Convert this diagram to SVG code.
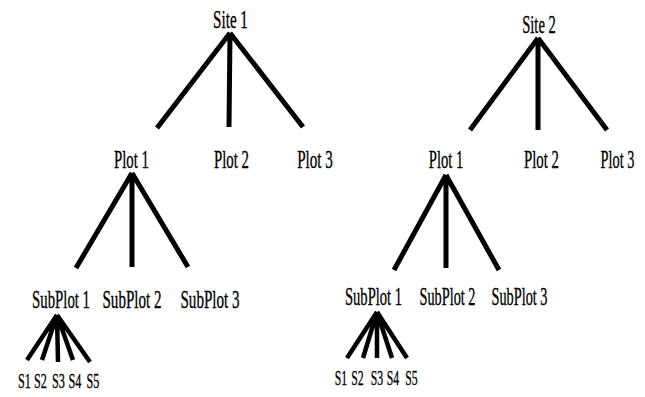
<svg xmlns="http://www.w3.org/2000/svg" width="645" height="397" viewBox="0 0 645 397">
<style>
text{font-family:"Liberation Serif","DejaVu Serif",serif;fill:#000;stroke:#000;stroke-width:0.35;text-anchor:middle;}
.l{font-size:26px;}
.s{font-size:21px;}
.e{stroke:#000;stroke-width:5;fill:none;}
.f{stroke:#000;stroke-width:4.5;fill:none;}
</style>
<rect width="645" height="397" fill="#fff"/>
<g id="connectors">
<path class="e" d="M230,33 L157,128 M230,33 L229,127 M230,33 L303,127"/>
<path class="e" d="M132,173 L76,268 M132,173 L132,267 M132,173 L188,267"/>
<path class="f" d="M57,315 L27,360 M57,315 L42,360 M57,315 L58,362 M57,315 L73,360 M57,315 L90,362"/>
<path class="e" d="M538,38 L470,130 M538,38 L538,130 M538,38 L607,130"/>
<path class="e" d="M446,175 L394,270 M446,175 L446,268 M446,175 L499,270"/>
<path class="f" d="M377,312 L347,358 M377,312 L363,358 M377,312 L377,358 M377,312 L392,358 M377,312 L407,358"/>
</g>
<g id="site1"><text class="l" transform="translate(230.5,28) scale(0.58,1)">Site 1</text></g>
<g id="s1plot1"><text class="l" transform="translate(131.5,168) scale(0.57,1)">Plot 1</text></g>
<g id="s1plot2"><text class="l" transform="translate(231.5,168) scale(0.57,1)">Plot 2</text></g>
<g id="s1plot3"><text class="l" transform="translate(315,168) scale(0.58,1)">Plot 3</text></g>
<g id="s1sub1"><text class="l" transform="translate(61,308) scale(0.57,1)">SubPlot 1</text></g>
<g id="s1sub2"><text class="l" transform="translate(132,308) scale(0.58,1)">SubPlot 2</text></g>
<g id="s1sub3"><text class="l" transform="translate(210,308) scale(0.58,1)">SubPlot 3</text></g>
<g id="s1s1"><text class="s" transform="translate(24.5,388) scale(0.58,1)">S1</text></g>
<g id="s1s2"><text class="s" transform="translate(40.5,388) scale(0.58,1)">S2</text></g>
<g id="s1s3"><text class="s" transform="translate(58.5,388) scale(0.58,1)">S3</text></g>
<g id="s1s4"><text class="s" transform="translate(75,388) scale(0.58,1)">S4</text></g>
<g id="s1s5"><text class="s" transform="translate(93,388) scale(0.58,1)">S5</text></g>
<g id="site2"><text class="l" transform="translate(539,33) scale(0.56,1)">Site 2</text></g>
<g id="s2plot1"><text class="l" transform="translate(446,168) scale(0.56,1)">Plot 1</text></g>
<g id="s2plot2"><text class="l" transform="translate(541.5,168) scale(0.57,1)">Plot 2</text></g>
<g id="s2plot3"><text class="l" transform="translate(617.5,168) scale(0.55,1)">Plot 3</text></g>
<g id="s2sub1"><text class="l" transform="translate(373.5,305) scale(0.56,1)">SubPlot 1</text></g>
<g id="s2sub2"><text class="l" transform="translate(447.5,305) scale(0.55,1)">SubPlot 2</text></g>
<g id="s2sub3"><text class="l" transform="translate(519.5,305) scale(0.55,1)">SubPlot 3</text></g>
<g id="s2s1"><text class="s" transform="translate(341,385) scale(0.56,1)">S1</text></g>
<g id="s2s2"><text class="s" transform="translate(357.5,385) scale(0.56,1)">S2</text></g>
<g id="s2s3"><text class="s" transform="translate(377,385) scale(0.56,1)">S3</text></g>
<g id="s2s4"><text class="s" transform="translate(393,385) scale(0.56,1)">S4</text></g>
<g id="s2s5"><text class="s" transform="translate(411.5,385) scale(0.56,1)">S5</text></g>
</svg>
